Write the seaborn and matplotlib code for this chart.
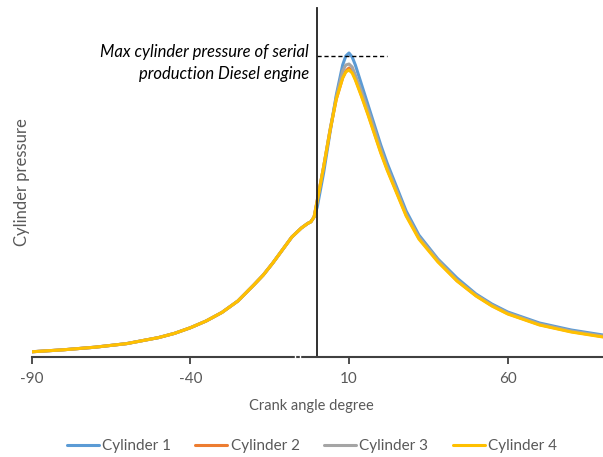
import matplotlib
matplotlib.use("Agg")
import matplotlib.pyplot as plt
import seaborn as sns
import pandas as pd

angles = [-90, -80, -70, -60, -50, -45, -40, -35, -30, -25, -20, -17, -14, -11, -8, -5, -3, -2, -1,
          0, 2, 4, 6, 8, 9, 10, 11, 12, 14, 16, 18, 20, 22, 25, 28, 32, 38, 44, 50, 55, 60, 70, 80, 90]
compression = [2.6, 3.6, 4.9, 6.7, 9.7, 11.8, 14.6, 18.0, 22.3, 28, 36, 41, 47, 53.5, 60, 64.5,
               66.8, 67.6, 70]
cyl1 = compression + [75, 92, 112, 131, 146, 150.5, 152, 150, 146, 136, 126, 116, 106, 97, 85, 73,
                      61, 49, 39.5, 31.5, 26.5, 22.5, 17, 13.5, 11]
cyl2 = compression + [78.5, 95, 113, 129, 139.5, 143, 144.5, 143, 139, 130.5, 121.5, 112, 102.5, 94,
                      82.5, 71, 59.5, 48, 38.2, 30.7, 25.7, 21.7, 16.2, 12.7, 10.2]
cyl3 = compression + [78, 95, 113.5, 130, 143, 146, 146.5, 145, 141, 132.5, 123.5, 114, 104, 95,
                      83.5, 71.5, 60, 48.5, 38.5, 31, 26, 22, 16.5, 13, 10.5]
cyl4 = compression + [78, 95, 113, 129, 139.5, 142.5, 143.5, 142, 138.5, 130, 121, 111.5, 102, 93.5,
                      82, 70.5, 59, 47.5, 38, 30.5, 25.5, 21.5, 16, 12.5, 10]
series_names = ["Cylinder 1", "Cylinder 2", "Cylinder 3", "Cylinder 4"]
xticks = [-90, -40, 10, 60]
max_pressure = 150.5
annotation = "Max cylinder pressure of serial\nproduction Diesel engine"

frames = []
for name, vals in zip(series_names, [cyl1, cyl2, cyl3, cyl4]):
    frames.append(pd.DataFrame({"angle": angles, "pressure": vals, "series": name}))
df = pd.concat(frames, ignore_index=True)

sns.set_style("white")
plt.rcParams["font.family"] = ["Lato", "DejaVu Sans"]

fig = plt.figure(figsize=(6.03, 4.57), dpi=100)
ax = fig.add_axes([31.5 / 603, 100 / 457, 571.5 / 603, 349 / 457])

palette = ["#5B9BD5", "#ED7D31", "#A5A5A5", "#FFC000"]
sns.lineplot(data=df, x="angle", y="pressure", hue="series", palette=palette,
             linewidth=2.2, ax=ax, sort=False)
for ln in ax.get_lines():
    ln.set_solid_joinstyle("round")

ax.set_xlim(-90, 90)
ax.set_ylim(0, 174.5)
ax.set_xticks(xticks)
ax.set_xticklabels([str(t) for t in xticks], fontsize=11, color="#595959")
ax.set_yticks([])
ax.set_xlabel("")
ax.set_ylabel("")
ax.tick_params(axis="x", direction="out", length=5, width=1.3, color="#404040", pad=6, bottom=True)

for s in ["top", "right"]:
    ax.spines[s].set_visible(False)
ax.spines["left"].set_position(("data", 0))
ax.spines["left"].set_color("#202020")
ax.spines["left"].set_linewidth(1.3)
ax.spines["bottom"].set_color("#404040")
ax.spines["bottom"].set_linewidth(1.5)

# axis break marks
for xb in [-7.0, -5.3]:
    ax.plot([xb, xb], [-1.2, 1.2], color="white", lw=1.0, clip_on=False, zorder=5)

ax.plot([0, 22], [max_pressure, max_pressure], color="black", lw=1.0, ls=(0, (3, 2)))
fig.text(309 / 603, 1 - 63 / 457, annotation, ha="right", va="center", fontsize=12,
         style="italic", color="black", linespacing=1.45)

fig.text(22 / 603, 1 - 182 / 457, "Cylinder pressure", rotation=90, ha="center", va="center",
         fontsize=12, color="#595959")
fig.text(311 / 603, 1 - 406 / 457, "Crank angle degree", ha="center", va="center",
         fontsize=10.5, color="#595959")

sns.move_legend(ax, "center", bbox_to_anchor=(0.517, 1 - 446 / 457), bbox_transform=fig.transFigure,
                ncol=4, frameon=False, title=None, fontsize=11, handlelength=2.1,
                columnspacing=1.6, handletextpad=0.2)
for t in ax.get_legend().get_texts():
    t.set_color("#595959")

fig.savefig("out.png", dpi=100)
